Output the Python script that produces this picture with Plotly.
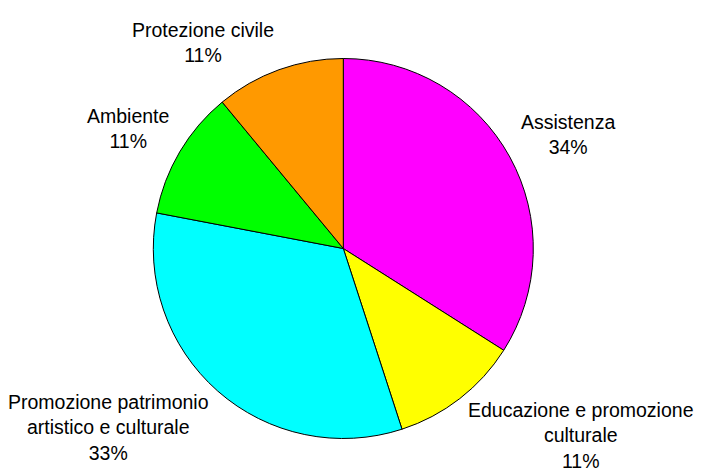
import math
import plotly.graph_objects as go

labels = ["Assistenza", "Educazione e promozione<br>culturale",
          "Promozione patrimonio<br>artistico e culturale", "Ambiente", "Protezione civile"]
values = [34, 11, 33, 11, 11]
colors = ["#FF00FF", "#FFFF00", "#00FFFF", "#00FF00", "#FF9900"]

W, H = 707, 472
cx, cy, r = 343.3, 248.5, 190.0   # pie centre / radius in pixels
dom_x = [0.0, 2 * cx / W]
dom_y = [1 - (cy + r) / H, 1 - (cy - r) / H]

fig = go.Figure(go.Pie(
    labels=labels, values=values, sort=False, direction="clockwise", rotation=0,
    marker=dict(colors=colors, line=dict(color="black", width=1)),
    textinfo="none", showlegend=False, hoverinfo="label+percent",
    domain=dict(x=dom_x, y=dom_y),
))

total = sum(values)
cum = 0.0
annotations = []
k = 1.06
for lab, v in zip(labels, values):
    mid = (cum + v / 2) / total * 2 * math.pi
    cum += v
    dx, dy = math.sin(mid), math.cos(mid)
    px = (cx + k * r * dx) / W
    py = 1 - (cy - k * r * dy) / H
    annotations.append(dict(
        x=px, y=py, xref="paper", yref="paper", showarrow=False,
        text=f"{lab}<br>{round(v / total * 100)}%", align="center",
        xanchor="left" if dx > 0 else "right",
        yanchor="bottom" if dy > 0 else "top",
        yshift=-7.5 if dy > 0 else 9.5,
        borderpad=0,
        font=dict(family="Liberation Sans, Arial", size=19.5, color="black"),
    ))

fig.update_layout(width=W, height=H, margin=dict(l=0, r=0, t=0, b=0),
                  paper_bgcolor="white", plot_bgcolor="white",
                  annotations=annotations)
fig.write_html("out.html", config={"displayModeBar": False},
               post_script="document.body.style.margin='0px';")
